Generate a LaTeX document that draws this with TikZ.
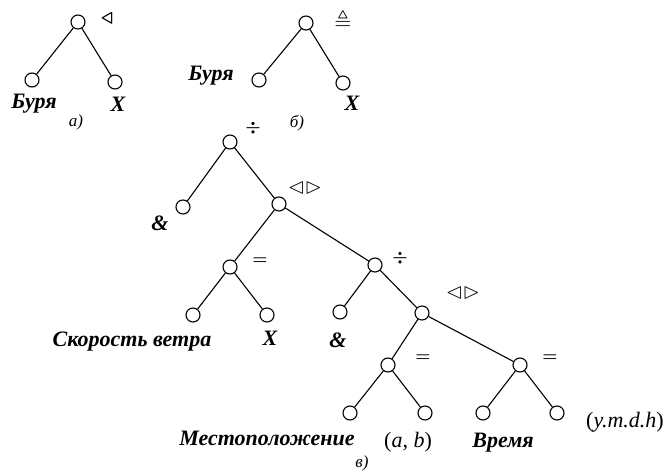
\documentclass[tikz,border=0pt]{standalone}
\usepackage{amsmath,amssymb}
\usepackage{fontspec}
\setmainfont{Liberation Serif}
\begin{document}
\begin{tikzpicture}[x=1pt,y=-1pt,
  vert/.style={circle,draw,line width=1.1pt,minimum size=14pt,inner sep=0pt,fill=white},
  edge/.style={line width=1.1pt},
  lbl/.style={font=\fontsize{22}{24}\selectfont\bfseries\itshape,inner sep=0pt},
  plain/.style={font=\fontsize{22}{24}\selectfont,inner sep=0pt},
  op/.style={font=\fontsize{17}{19}\selectfont,inner sep=0pt},
  midop/.style={font=\fontsize{20}{22}\selectfont,inner sep=0pt},
  bigop/.style={font=\fontsize{22}{24}\selectfont,inner sep=0pt},
  caption/.style={font=\fontsize{17}{19}\selectfont\itshape,inner sep=0pt}]
\useasboundingbox (0,0) rectangle (670,471);
% tree a
\node[vert] (ar) at (78,22) {};
\node[vert] (al) at (32,80) {};
\node[vert] (ax) at (115,82) {};
\draw[edge] (ar) -- (al);
\draw[edge] (ar) -- (ax);
\node[midop] (aop) at (107,19) {$\boldsymbol{\triangleleft}$};
\node[lbl] (alab) at (34,104) {Буря};
\node[lbl] (axlab) at (118,104) {X};
\node[caption] (acap) at (76,122) {а)};
% tree b
\node[vert] (br) at (306,23) {};
\node[vert] (bl) at (259,80) {};
\node[vert] (bx) at (343,83) {};
\draw[edge] (br) -- (bl);
\draw[edge] (br) -- (bx);
\node[bigop] (bop) at (343,20) {$\boldsymbol{\triangleq}$};
\node[lbl] (blab) at (211,76) {Буря};
\node[lbl] (bxlab) at (352,103) {X};
\node[caption] (bcap) at (297,123) {б)};
% tree c
\node[vert] (R) at (230,142) {};
\node[vert] (L1) at (183,207) {};
\node[vert] (A) at (279,204) {};
\node[vert] (B) at (230,267) {};
\node[vert] (B1) at (193,315) {};
\node[vert] (B2) at (267,315) {};
\node[vert] (C) at (375,265) {};
\node[vert] (C1) at (340,312) {};
\node[vert] (D) at (422,313) {};
\node[vert] (E) at (388,365) {};
\node[vert] (E1) at (350,413) {};
\node[vert] (E2) at (425,413) {};
\node[vert] (F) at (520,365) {};
\node[vert] (F1) at (483,413) {};
\node[vert] (F2) at (557,413) {};
\draw[edge] (R) -- (L1);
\draw[edge] (R) -- (A);
\draw[edge] (A) -- (B);
\draw[edge] (A) -- (C);
\draw[edge] (B) -- (B1);
\draw[edge] (B) -- (B2);
\draw[edge] (C) -- (C1);
\draw[edge] (C) -- (D);
\draw[edge] (D) -- (E);
\draw[edge] (D) -- (F);
\draw[edge] (E) -- (E1);
\draw[edge] (E) -- (E2);
\draw[edge] (F) -- (F1);
\draw[edge] (F) -- (F2);
\node[op] (Rop) at (253,128) {$\boldsymbol{\div}$};
\node[lbl] (L1lab) at (160,223) {\&};
\node[bigop] (Aop) at (305,188) {$\boldsymbol{{\lhd}{\rhd}}$};
\node[op] (Bop) at (260,261) {$\boldsymbol{=}$};
\node[lbl] (B1lab) at (132,342) {Скорость ветра};
\node[lbl] (B2lab) at (270,338) {X};
\node[op] (Cop) at (400,258) {$\boldsymbol{\div}$};
\node[lbl] (C1lab) at (338,340) {\&};
\node[bigop] (Dop) at (463,293) {$\boldsymbol{{\lhd}{\rhd}}$};
\node[op] (Eop) at (423,358) {$\boldsymbol{=}$};
\node[op] (Fop) at (550,358) {$\boldsymbol{=}$};
\node[lbl] (E1lab) at (267,438) {Местоположение};
\node[plain] (E2lab) at (408,442) {(\textit{a}, \textit{b})};
\node[lbl] (F1lab) at (503,443) {Время};
\node[plain] (F2lab) at (625,422) {(\textit{y.m.d.h})};
\node[caption] (ccap) at (362,463) {в)};
\end{tikzpicture}
\end{document}
